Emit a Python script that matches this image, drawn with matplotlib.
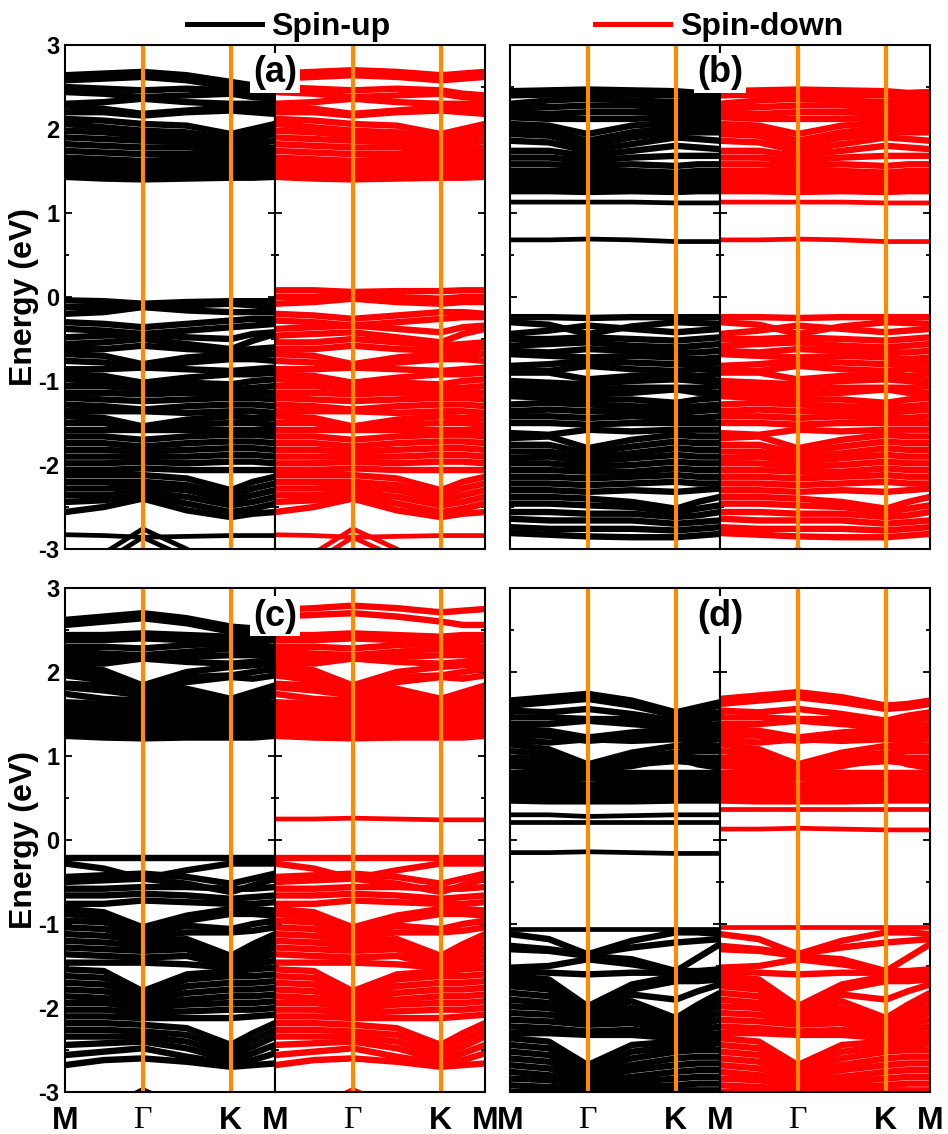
import matplotlib
matplotlib.use("Agg")
import matplotlib.pyplot as plt
from matplotlib.lines import Line2D

plt.rcParams['font.family'] = ['Liberation Sans', 'DejaVu Sans']
plt.rcParams['axes.unicode_minus'] = False

# k-path: M, (M-G), G, (G-K), K, (K-M), M  -- same grid for every band
K_POINTS = [0.0, 0.185, 0.37, 0.58, 0.79, 0.895, 1.0]
TICK_POS = [0.0, 0.37, 0.79, 1.0]
TICK_LAB = ['M', 'Γ', 'K', 'M']
Y_TICKS = [3, 2, 1, 0, -1, -2, -3]

# ---------------- panel (a) ----------------
a_up_cb_top = [
    [2.64, 2.66, 2.68, 2.64, 2.56, 2.52, 2.50],
    [2.58, 2.60, 2.62, 2.58, 2.50, 2.46, 2.44],
]
a_dn_cb_top = [
    [2.66, 2.68, 2.70, 2.68, 2.64, 2.66, 2.68],
    [2.60, 2.62, 2.64, 2.62, 2.58, 2.60, 2.62],
]
a_cb = [
    [2.50, 2.48, 2.46, 2.48, 2.46, 2.42, 2.40],
    [2.44, 2.42, 2.38, 2.40, 2.42, 2.38, 2.36],
    [2.30, 2.32, 2.36, 2.32, 2.30, 2.30, 2.30],
    [2.28, 2.24, 2.18, 2.22, 2.26, 2.24, 2.24],
    [2.20, 2.20, 2.16, 2.20, 2.22, 2.20, 2.18],
    [2.12, 2.10, 2.06, 2.04, 1.94, 2.00, 2.06],
    [2.06, 2.02, 1.98, 1.96, 1.88, 1.94, 2.00],
    [1.98, 1.96, 1.92, 1.90, 1.84, 1.88, 1.94],
    [1.90, 1.88, 1.86, 1.84, 1.80, 1.82, 1.86],
    [1.82, 1.80, 1.78, 1.78, 1.76, 1.76, 1.78],
    [1.74, 1.72, 1.70, 1.70, 1.70, 1.70, 1.72],
    [1.66, 1.64, 1.62, 1.64, 1.64, 1.64, 1.66],
    [1.60, 1.58, 1.56, 1.58, 1.58, 1.58, 1.60],
    [1.54, 1.52, 1.50, 1.52, 1.52, 1.52, 1.54],
    [1.48, 1.46, 1.44, 1.46, 1.46, 1.46, 1.48],
    [1.43, 1.41, 1.40, 1.41, 1.42, 1.42, 1.43],
]
a_up_vb_top = [
    [-0.04, -0.05, -0.08, -0.06, -0.05, -0.05, -0.05],
    [-0.12, -0.12, -0.10, -0.10, -0.08, -0.10, -0.12],
    [-0.20, -0.18, -0.12, -0.16, -0.18, -0.18, -0.18],
    [-0.30, -0.32, -0.36, -0.32, -0.28, -0.26, -0.26],
    [-0.38, -0.40, -0.44, -0.40, -0.36, -0.34, -0.32],
    [-0.48, -0.46, -0.44, -0.48, -0.50, -0.44, -0.42],
    [-0.56, -0.54, -0.50, -0.56, -0.62, -0.52, -0.44],
]
a_dn_vb_top = [
    [0.08, 0.08, 0.06, 0.07, 0.07, 0.08, 0.08],
    [0.00, 0.00, 0.02, 0.00, -0.02, 0.00, 0.00],
    [-0.08, -0.06, -0.02, -0.06, -0.08, -0.06, -0.06],
    [-0.20, -0.22, -0.26, -0.22, -0.18, -0.18, -0.20],
    [-0.28, -0.30, -0.34, -0.30, -0.26, -0.24, -0.24],
    [-0.38, -0.36, -0.34, -0.38, -0.42, -0.36, -0.34],
    [-0.46, -0.44, -0.42, -0.48, -0.54, -0.44, -0.38],
    [-0.54, -0.54, -0.50, -0.54, -0.58, -0.56, -0.54],
]
a_vb = [
    [-0.62, -0.62, -0.58, -0.62, -0.64, -0.62, -0.60],
    [-0.68, -0.70, -0.80, -0.72, -0.68, -0.68, -0.68],
    [-0.76, -0.78, -0.84, -0.78, -0.74, -0.74, -0.76],
    [-0.86, -0.86, -0.84, -0.86, -0.88, -0.86, -0.84],
    [-0.92, -0.94, -1.02, -0.96, -0.92, -0.92, -0.90],
    [-0.98, -1.00, -1.06, -1.02, -1.04, -1.00, -0.98],
    [-1.06, -1.06, -1.10, -1.08, -1.10, -1.08, -1.06],
    [-1.14, -1.14, -1.16, -1.14, -1.14, -1.14, -1.14],
    [-1.20, -1.22, -1.24, -1.22, -1.20, -1.20, -1.22],
    [-1.28, -1.30, -1.34, -1.30, -1.28, -1.28, -1.30],
    [-1.36, -1.36, -1.36, -1.38, -1.36, -1.36, -1.38],
    [-1.42, -1.44, -1.54, -1.46, -1.42, -1.44, -1.44],
    [-1.50, -1.50, -1.58, -1.52, -1.50, -1.50, -1.52],
    [-1.58, -1.58, -1.58, -1.58, -1.58, -1.58, -1.58],
    [-1.66, -1.66, -1.70, -1.66, -1.64, -1.64, -1.66],
    [-1.74, -1.74, -1.78, -1.74, -1.72, -1.72, -1.74],
    [-1.82, -1.82, -1.84, -1.82, -1.80, -1.80, -1.82],
    [-1.90, -1.90, -1.90, -1.90, -1.88, -1.88, -1.90],
    [-1.98, -1.98, -1.96, -1.98, -1.96, -1.96, -1.98],
    [-2.06, -2.06, -2.04, -2.06, -2.06, -2.06, -2.06],
    [-2.12, -2.12, -2.12, -2.16, -2.30, -2.20, -2.14],
    [-2.20, -2.20, -2.20, -2.24, -2.36, -2.28, -2.22],
    [-2.28, -2.28, -2.26, -2.30, -2.42, -2.36, -2.30],
    [-2.36, -2.36, -2.32, -2.38, -2.48, -2.44, -2.38],
    [-2.44, -2.42, -2.36, -2.46, -2.56, -2.52, -2.46],
    [-2.56, -2.50, -2.40, -2.54, -2.62, -2.58, -2.56],
]
a_thin = [
    [-2.83, -2.84, -2.86, -2.85, -2.84, -2.84, -2.84],
    [-3.40, -3.05, -2.76, -3.00, -3.30, -3.40, -3.40],
    [-3.40, -3.15, -2.86, -3.10, -3.40, -3.40, -3.40],
]

# ---------------- panel (b) ----------------
b_cb = [
    [2.45, 2.46, 2.47, 2.46, 2.45, 2.43, 2.44],
    [2.40, 2.41, 2.42, 2.41, 2.40, 2.38, 2.38],
    [2.30, 2.34, 2.36, 2.34, 2.32, 2.32, 2.32],
    [2.26, 2.26, 2.28, 2.28, 2.26, 2.26, 2.26],
    [2.20, 2.18, 2.20, 2.20, 2.20, 2.20, 2.20],
    [2.14, 2.12, 2.12, 2.12, 2.14, 2.14, 2.14],
    [2.06, 2.04, 1.94, 2.04, 2.08, 2.08, 2.08],
    [2.00, 1.98, 1.86, 1.96, 2.02, 2.02, 2.02],
    [1.94, 1.92, 1.80, 1.90, 1.96, 1.96, 1.96],
    [1.86, 1.84, 1.74, 1.82, 1.90, 1.88, 1.86],
    [1.74, 1.74, 1.68, 1.74, 1.80, 1.78, 1.76],
    [1.66, 1.66, 1.62, 1.66, 1.68, 1.68, 1.68],
    [1.58, 1.58, 1.56, 1.58, 1.56, 1.58, 1.58],
    [1.50, 1.50, 1.50, 1.50, 1.48, 1.50, 1.50],
    [1.44, 1.44, 1.44, 1.44, 1.42, 1.44, 1.44],
    [1.38, 1.38, 1.37, 1.38, 1.37, 1.38, 1.38],
    [1.32, 1.32, 1.31, 1.32, 1.31, 1.32, 1.32],
    [1.26, 1.26, 1.25, 1.26, 1.25, 1.26, 1.26],
]
b_thin = [
    [1.13, 1.13, 1.13, 1.13, 1.12, 1.12, 1.12],
    [0.68, 0.68, 0.69, 0.68, 0.66, 0.66, 0.66],
]
b_vb = [
    [-0.24, -0.24, -0.25, -0.24, -0.24, -0.24, -0.24],
    [-0.30, -0.33, -0.44, -0.35, -0.30, -0.31, -0.32],
    [-0.44, -0.40, -0.34, -0.38, -0.42, -0.40, -0.38],
    [-0.50, -0.50, -0.48, -0.50, -0.52, -0.50, -0.48],
    [-0.58, -0.56, -0.54, -0.58, -0.60, -0.58, -0.56],
    [-0.64, -0.66, -0.62, -0.64, -0.66, -0.66, -0.64],
    [-0.68, -0.70, -0.72, -0.70, -0.72, -0.74, -0.72],
    [-0.82, -0.80, -0.76, -0.78, -0.80, -0.80, -0.78],
    [-0.88, -0.88, -0.82, -0.86, -0.88, -0.86, -0.86],
    [-0.90, -0.90, -0.98, -0.94, -0.92, -0.94, -0.92],
    [-1.00, -1.02, -1.04, -1.00, -0.98, -1.00, -1.00],
    [-1.06, -1.08, -1.10, -1.08, -1.08, -1.08, -1.06],
    [-1.12, -1.14, -1.16, -1.14, -1.10, -1.14, -1.14],
    [-1.18, -1.20, -1.22, -1.22, -1.26, -1.22, -1.20],
    [-1.28, -1.26, -1.28, -1.30, -1.32, -1.30, -1.28],
    [-1.36, -1.34, -1.36, -1.36, -1.38, -1.36, -1.34],
    [-1.42, -1.42, -1.44, -1.42, -1.44, -1.44, -1.42],
    [-1.50, -1.50, -1.52, -1.50, -1.50, -1.50, -1.50],
    [-1.62, -1.64, -1.58, -1.60, -1.58, -1.58, -1.58],
    [-1.68, -1.66, -1.80, -1.70, -1.64, -1.66, -1.66],
    [-1.76, -1.76, -1.86, -1.78, -1.72, -1.74, -1.74],
    [-1.84, -1.84, -1.92, -1.86, -1.80, -1.82, -1.82],
    [-1.92, -1.90, -1.96, -1.92, -1.88, -1.90, -1.90],
    [-1.98, -1.98, -2.02, -2.00, -1.96, -1.98, -1.98],
    [-2.06, -2.06, -2.08, -2.08, -2.04, -2.06, -2.06],
    [-2.14, -2.14, -2.16, -2.14, -2.12, -2.14, -2.14],
    [-2.22, -2.22, -2.24, -2.22, -2.20, -2.22, -2.22],
    [-2.30, -2.30, -2.32, -2.30, -2.32, -2.30, -2.28],
    [-2.38, -2.38, -2.40, -2.44, -2.52, -2.44, -2.38],
    [-2.46, -2.46, -2.48, -2.50, -2.56, -2.52, -2.48],
    [-2.56, -2.56, -2.58, -2.58, -2.62, -2.60, -2.56],
    [-2.64, -2.66, -2.66, -2.66, -2.70, -2.68, -2.66],
    [-2.74, -2.76, -2.76, -2.76, -2.78, -2.76, -2.74],
    [-2.81, -2.83, -2.85, -2.86, -2.86, -2.84, -2.82],
]
b_dn_thin = [
    [1.13, 1.13, 1.13, 1.13, 1.12, 1.12, 1.12],
    [0.68, 0.68, 0.69, 0.68, 0.66, 0.66, 0.66],
    [-3.40, -3.20, -3.00, -3.20, -3.40, -3.40, -3.40],
]

# ---------------- panel (c) ----------------
c_up_cb_top = [
    [2.62, 2.66, 2.70, 2.64, 2.54, 2.52, 2.52],
    [2.56, 2.60, 2.64, 2.58, 2.48, 2.46, 2.46],
]
c_dn_cb_top = [
    [2.74, 2.76, 2.79, 2.76, 2.71, 2.73, 2.75],
    [2.66, 2.68, 2.70, 2.66, 2.60, 2.56, 2.56],
]
c_dn_thin = [
    [0.25, 0.25, 0.26, 0.25, 0.24, 0.24, 0.24],
]
c_cb = [
    [2.44, 2.44, 2.46, 2.44, 2.42, 2.44, 2.44],
    [2.38, 2.38, 2.40, 2.38, 2.36, 2.38, 2.38],
    [2.30, 2.30, 2.28, 2.32, 2.34, 2.32, 2.30],
    [2.24, 2.22, 2.20, 2.24, 2.28, 2.26, 2.24],
    [2.18, 2.16, 2.18, 2.18, 2.20, 2.20, 2.18],
    [2.12, 2.10, 2.16, 2.12, 2.10, 2.12, 2.14],
    [2.08, 2.02, 1.84, 2.00, 2.06, 2.08, 2.10],
    [2.02, 1.96, 1.80, 1.94, 1.96, 2.00, 2.04],
    [1.96, 1.90, 1.76, 1.88, 1.94, 1.92, 1.96],
    [1.86, 1.84, 1.80, 1.80, 1.68, 1.76, 1.84],
    [1.82, 1.78, 1.72, 1.74, 1.64, 1.72, 1.78],
    [1.74, 1.68, 1.66, 1.68, 1.62, 1.66, 1.72],
    [1.64, 1.62, 1.60, 1.62, 1.60, 1.62, 1.64],
    [1.58, 1.56, 1.54, 1.56, 1.56, 1.56, 1.58],
    [1.52, 1.50, 1.48, 1.50, 1.50, 1.50, 1.52],
    [1.46, 1.44, 1.42, 1.44, 1.44, 1.44, 1.46],
    [1.40, 1.38, 1.36, 1.38, 1.38, 1.38, 1.40],
    [1.34, 1.32, 1.30, 1.32, 1.32, 1.32, 1.34],
    [1.28, 1.26, 1.24, 1.26, 1.26, 1.26, 1.28],
    [1.24, 1.22, 1.21, 1.22, 1.22, 1.22, 1.24],
]
c_vb = [
    [-0.22, -0.22, -0.22, -0.22, -0.22, -0.22, -0.22],
    [-0.28, -0.34, -0.46, -0.36, -0.28, -0.28, -0.28],
    [-0.44, -0.42, -0.40, -0.44, -0.52, -0.46, -0.40],
    [-0.50, -0.48, -0.46, -0.52, -0.62, -0.54, -0.46],
    [-0.58, -0.58, -0.56, -0.56, -0.58, -0.58, -0.56],
    [-0.66, -0.66, -0.64, -0.66, -0.70, -0.68, -0.66],
    [-0.76, -0.76, -0.72, -0.74, -0.76, -0.76, -0.74],
    [-0.82, -0.86, -1.04, -0.90, -0.82, -0.82, -0.84],
    [-0.88, -0.92, -1.08, -0.96, -0.88, -0.88, -0.90],
    [-0.96, -0.98, -1.12, -1.02, -1.06, -1.00, -0.96],
    [-1.04, -1.06, -1.16, -1.10, -1.10, -1.08, -1.04],
    [-1.12, -1.14, -1.20, -1.18, -1.38, -1.24, -1.12],
    [-1.20, -1.22, -1.26, -1.24, -1.42, -1.30, -1.20],
    [-1.28, -1.30, -1.32, -1.30, -1.46, -1.36, -1.28],
    [-1.36, -1.38, -1.40, -1.38, -1.50, -1.42, -1.36],
    [-1.46, -1.46, -1.46, -1.48, -1.52, -1.48, -1.44],
    [-1.54, -1.56, -1.80, -1.60, -1.56, -1.54, -1.52],
    [-1.62, -1.64, -1.84, -1.66, -1.62, -1.62, -1.60],
    [-1.70, -1.72, -1.88, -1.74, -1.70, -1.70, -1.68],
    [-1.78, -1.80, -1.92, -1.82, -1.78, -1.78, -1.76],
    [-1.86, -1.88, -1.96, -1.90, -1.86, -1.86, -1.84],
    [-1.94, -1.94, -2.00, -1.96, -1.94, -1.94, -1.92],
    [-2.02, -2.02, -2.06, -2.04, -2.02, -2.02, -2.00],
    [-2.10, -2.10, -2.12, -2.12, -2.12, -2.10, -2.08],
    [-2.18, -2.18, -2.20, -2.24, -2.44, -2.30, -2.18],
    [-2.26, -2.26, -2.28, -2.32, -2.50, -2.38, -2.26],
    [-2.34, -2.34, -2.34, -2.40, -2.56, -2.46, -2.34],
    [-2.44, -2.42, -2.40, -2.48, -2.62, -2.54, -2.44],
    [-2.56, -2.52, -2.48, -2.58, -2.66, -2.62, -2.54],
    [-2.68, -2.62, -2.60, -2.64, -2.70, -2.68, -2.66],
]
c_thin = [
    [-3.40, -3.20, -2.97, -3.20, -3.40, -3.40, -3.40],
]

# ---------------- panel (d) ----------------
d_up_top = [
    [1.66, 1.70, 1.74, 1.66, 1.52, 1.58, 1.64],
    [1.60, 1.64, 1.68, 1.60, 1.48, 1.54, 1.60],
]
d_up_thin = [
    [0.30, 0.30, 0.28, 0.29, 0.30, 0.30, 0.30],
    [0.22, 0.22, 0.22, 0.22, 0.22, 0.22, 0.22],
    [-0.15, -0.15, -0.14, -0.15, -0.16, -0.16, -0.16],
    [-1.06, -1.06, -1.06, -1.06, -1.06, -1.06, -1.06],
]
d_dn_top = [
    [1.68, 1.72, 1.76, 1.70, 1.60, 1.62, 1.66],
    [1.62, 1.66, 1.70, 1.64, 1.56, 1.58, 1.62],
]
d_dn_thin = [
    [0.37, 0.37, 0.37, 0.37, 0.37, 0.37, 0.37],
    [0.13, 0.13, 0.14, 0.13, 0.12, 0.12, 0.12],
    [-1.03, -1.03, -1.03, -1.03, -1.03, -1.03, -1.03],
]
d_cb = [
    [1.54, 1.52, 1.56, 1.50, 1.42, 1.48, 1.52],
    [1.46, 1.46, 1.44, 1.44, 1.40, 1.42, 1.46],
    [1.38, 1.38, 1.42, 1.38, 1.34, 1.36, 1.38],
    [1.32, 1.30, 1.22, 1.28, 1.32, 1.30, 1.32],
    [1.26, 1.24, 1.18, 1.22, 1.26, 1.24, 1.26],
    [1.20, 1.16, 1.20, 1.18, 1.20, 1.18, 1.20],
    [1.14, 1.08, 0.90, 1.04, 1.12, 1.12, 1.12],
    [1.06, 1.02, 0.86, 0.98, 1.04, 1.06, 1.06],
    [0.98, 0.96, 0.88, 0.94, 1.00, 0.98, 0.98],
    [0.92, 0.90, 0.86, 0.90, 0.94, 0.92, 0.92],
    [0.88, 0.86, 0.84, 0.88, 0.98, 0.90, 0.86],
    [0.80, 0.80, 0.80, 0.80, 0.80, 0.80, 0.80],
    [0.74, 0.74, 0.74, 0.74, 0.74, 0.74, 0.74],
    [0.68, 0.68, 0.66, 0.68, 0.68, 0.68, 0.68],
    [0.62, 0.62, 0.60, 0.62, 0.62, 0.62, 0.62],
    [0.56, 0.56, 0.54, 0.56, 0.56, 0.56, 0.56],
    [0.50, 0.50, 0.49, 0.50, 0.50, 0.50, 0.50],
    [0.47, 0.46, 0.46, 0.46, 0.47, 0.47, 0.47],
]
d_vb = [
    [-1.12, -1.18, -1.36, -1.20, -1.10, -1.10, -1.12],
    [-1.26, -1.30, -1.36, -1.28, -1.22, -1.20, -1.18],
    [-1.30, -1.32, -1.38, -1.42, -1.56, -1.40, -1.24],
    [-1.52, -1.50, -1.42, -1.48, -1.56, -1.56, -1.54],
    [-1.56, -1.58, -1.60, -1.58, -1.58, -1.58, -1.56],
    [-1.62, -1.66, -1.98, -1.72, -1.62, -1.62, -1.60],
    [-1.68, -1.72, -2.02, -1.78, -1.68, -1.68, -1.66],
    [-1.74, -1.78, -2.04, -1.84, -1.90, -1.80, -1.72],
    [-1.82, -1.86, -2.06, -1.92, -2.12, -1.96, -1.82],
    [-1.90, -1.94, -2.08, -2.00, -2.16, -2.02, -1.90],
    [-1.98, -2.00, -2.12, -2.06, -2.20, -2.08, -1.98],
    [-2.06, -2.08, -2.16, -2.12, -2.24, -2.14, -2.06],
    [-2.14, -2.16, -2.20, -2.18, -2.28, -2.20, -2.14],
    [-2.22, -2.24, -2.28, -2.26, -2.32, -2.26, -2.22],
    [-2.30, -2.30, -2.32, -2.32, -2.36, -2.32, -2.30],
    [-2.36, -2.40, -2.68, -2.44, -2.40, -2.38, -2.36],
    [-2.44, -2.48, -2.72, -2.52, -2.46, -2.44, -2.42],
    [-2.52, -2.56, -2.76, -2.60, -2.52, -2.50, -2.50],
    [-2.60, -2.64, -2.80, -2.68, -2.60, -2.58, -2.58],
    [-2.68, -2.72, -2.84, -2.74, -2.68, -2.66, -2.66],
    [-2.76, -2.80, -2.88, -2.82, -2.76, -2.74, -2.74],
    [-2.84, -2.86, -2.92, -2.88, -2.84, -2.82, -2.82],
    [-2.92, -2.94, -2.96, -2.94, -2.92, -2.90, -2.90],
    [-3.00, -3.00, -3.00, -3.00, -2.98, -2.98, -2.98],
]

PANELS = [
    # tag, dense up, dense down, thin up, thin down, left px, top px
    ('(a)', [a_up_cb_top, a_cb, a_up_vb_top, a_vb], [a_dn_cb_top, a_cb, a_dn_vb_top, a_vb],
     a_thin, a_thin, 65, 45),
    ('(b)', [b_cb, b_vb], [b_cb, b_vb], b_thin, b_dn_thin, 510, 45),
    ('(c)', [c_up_cb_top, c_cb, c_vb], [c_dn_cb_top, c_cb, c_vb], c_thin, c_dn_thin + c_thin, 65, 588),
    ('(d)', [d_up_top, d_cb, d_vb], [d_dn_top, d_cb, d_vb], d_up_thin, d_dn_thin, 510, 588),
]

W, H = 948, 1134
HALF_W, PANEL_H = 210, 504
DENSE_LW = 4.6
THIN_LW = 3.4
ORANGE = '#FF8C00'

fig = plt.figure(figsize=(W / 100, H / 100), dpi=100)


def style_axis(ax, show_y, show_x, first):
    ax.set_xlim(0, 1)
    ax.set_ylim(-3, 3)
    ax.set_yticks(Y_TICKS)
    ax.set_yticks([2.5, 1.5, 0.5, -0.5, -1.5, -2.5], minor=True)
    ax.tick_params(axis='y', which='both', direction='in', left=True, right=True,
                   width=1.3, labelsize=17, pad=4)
    ax.tick_params(axis='y', which='major', length=5)
    ax.tick_params(axis='y', which='minor', length=3)
    if show_y:
        ax.set_yticklabels([str(v) for v in Y_TICKS], fontweight='bold')
        ax.set_ylabel('Energy (eV)', fontsize=23, fontweight='bold')
        ax.yaxis.set_label_coords(-0.125, 0.5)
    else:
        ax.set_yticklabels([])
    if show_x:
        pos = TICK_POS if first else TICK_POS[1:]
        lab = TICK_LAB if first else TICK_LAB[1:]
        ax.set_xticks(pos)
        ax.set_xticklabels(lab, fontsize=23, fontweight='bold')
        for t in ax.get_xticklabels():
            if t.get_text() == 'Γ':
                t.set_fontfamily('Liberation Serif')
                t.set_fontweight('normal')
        ax.tick_params(axis='x', length=0, pad=10)
    else:
        ax.set_xticks([])
    for s in ax.spines.values():
        s.set_linewidth(1.5)
        s.set_zorder(6)
    for x in TICK_POS[1:3]:
        ax.axvline(x, color=ORANGE, lw=3.0, zorder=4)


def draw_bands(ax, sets, color, lw):
    for bands in sets:
        for e in bands:
            ax.plot(K_POINTS, e, color=color, lw=lw, solid_joinstyle='round',
                    solid_capstyle='butt', zorder=2)


for tag, up_sets, dn_sets, up_thin, dn_thin, left, top in PANELS:
    bottom = 1 - (top + PANEL_H) / H
    ax_up = fig.add_axes([left / W, bottom, HALF_W / W, PANEL_H / H])
    ax_dn = fig.add_axes([(left + HALF_W) / W, bottom, HALF_W / W, PANEL_H / H])
    draw_bands(ax_up, up_sets, 'black', DENSE_LW)
    draw_bands(ax_up, [up_thin], 'black', THIN_LW)
    draw_bands(ax_dn, dn_sets, 'red', DENSE_LW)
    draw_bands(ax_dn, [dn_thin], 'red', THIN_LW)
    bottom_row = top > 300
    style_axis(ax_up, left < 300, bottom_row, True)
    style_axis(ax_dn, False, bottom_row, False)
    fig.text((left + HALF_W) / W, 1 - (top + 28) / H, tag, fontsize=26, fontweight='bold',
             ha='center', va='center', zorder=10,
             bbox=dict(boxstyle='square,pad=0.08', fc='white', ec='none'))

handles = [Line2D([], [], color='black', lw=3.6), Line2D([], [], color='red', lw=3.6)]
fig.legend(handles, ['Spin-up', 'Spin-down'], ncol=2, frameon=False, loc='center',
           bbox_to_anchor=(0.543, 1 - 27 / H), handlelength=2.35, handletextpad=0.3,
           columnspacing=6.4, prop={'weight': 'bold', 'size': 23})

fig.savefig('out.png', dpi=100)
